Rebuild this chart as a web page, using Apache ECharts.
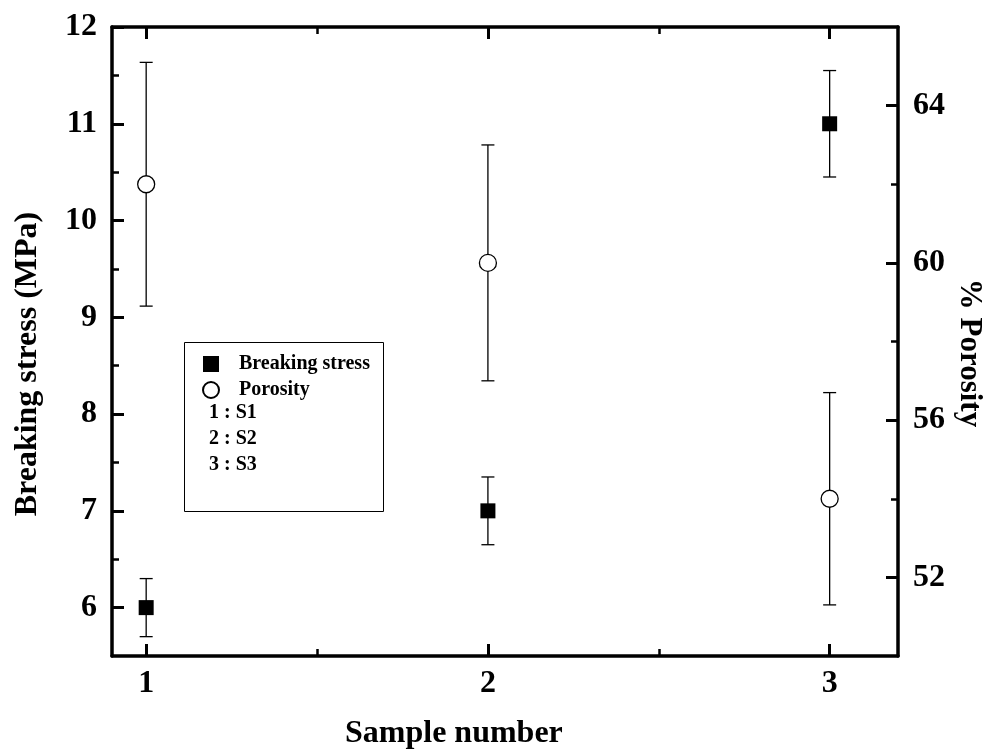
<!DOCTYPE html>
<html>
<head>
<meta charset="utf-8">
<script src="https://cdn.jsdelivr.net/npm/echarts@6/dist/echarts.min.js"></script>
<style>
  html, body { margin: 0; padding: 0; background: #fff; }
  #chart { width: 988px; height: 752px; }
</style>
</head>
<body>
<div id="chart"></div>
<script>
// Sample data: breaking stress (MPa) and porosity (%) with error bars
const samples = [1, 2, 3];
const stressValues = [6.0, 7.0, 11.0];
const stressErrors = [0.30, 0.35, 0.55];
const porosityValues = [62.0, 60.0, 54.0];
const porosityErrors = [3.1, 3.0, 2.7];

// Tick positions
const sampleTicks = [1, 2, 3];
const sampleMinorTicks = [1.5, 2.5];
const stressTicks = [6, 7, 8, 9, 10, 11, 12];
const stressMinorTicks = [6.5, 7.5, 8.5, 9.5, 10.5, 11.5];
const porosityTicks = [52, 56, 60, 64];
const porosityMinorTicks = [54, 58, 62];

// Key text shown inside the legend box
const sampleKey = ['1 : S1', '2 : S2', '3 : S3'];

const FONT = '"Liberation Serif", "Times New Roman", serif';
const chart = echarts.init(document.getElementById('chart'), null, { renderer: 'canvas' });

function axisBase(extra) {
  return Object.assign({
    type: 'value',
    splitLine: { show: false },
    axisLine: { show: false },
    axisLabel: { show: false },
    axisTick: { show: false }
  }, extra);
}
function majorTick(values) {
  return { show: true, inside: true, length: 12, customValues: values,
           lineStyle: { color: '#000', width: 3 } };
}
function minorTick(values) {
  return { show: true, inside: true, length: 7, customValues: values,
           lineStyle: { color: '#000', width: 2.5 } };
}
const tickLabel = (values, margin) => ({
  show: true, customValues: values, margin: margin,
  color: '#000', fontFamily: FONT, fontWeight: 'bold', fontSize: 32
});
const frameLine = { show: true, onZero: false, lineStyle: { color: '#000', width: 3.5 } };

const xRange = { min: 0.9, max: 3.2 };
const stressRange = { min: 5.5, max: 12 };
const porosityRange = { min: 50, max: 66 };

function errorBarSeries(name, yAxisIndex, values, errors) {
  return {
    name: name + ' error',
    type: 'custom',
    xAxisIndex: 0,
    yAxisIndex: yAxisIndex,
    z: 1,
    silent: true,
    data: samples.map((s, i) => [s, values[i], errors[i]]),
    renderItem: function (params, api) {
      const x = api.value(0), y = api.value(1), e = api.value(2);
      const top = api.coord([x, y + e]);
      const bot = api.coord([x, y - e]);
      const cap = 6.5;
      const style = { stroke: '#000', lineWidth: 1.3 };
      return {
        type: 'group',
        children: [
          { type: 'line', shape: { x1: top[0], y1: top[1], x2: bot[0], y2: bot[1] }, style: style },
          { type: 'line', shape: { x1: top[0] - cap, y1: top[1], x2: top[0] + cap, y2: top[1] }, style: style },
          { type: 'line', shape: { x1: bot[0] - cap, y1: bot[1], x2: bot[0] + cap, y2: bot[1] }, style: style }
        ]
      };
    }
  };
}

const keyTexts = sampleKey.map((t, i) => ({
  type: 'text',
  left: 209,
  top: 403 + i * 25.7,
  z: 100,
  style: { text: t, fill: '#000', font: 'bold 20px ' + FONT }
}));

const option = {
  animation: false,
  backgroundColor: '#fff',
  grid: { left: 112, right: 90, top: 27, bottom: 96, containLabel: false },
  xAxis: [
    axisBase(Object.assign({ position: 'bottom', axisLine: frameLine,
      axisTick: majorTick(sampleTicks), axisLabel: tickLabel(sampleTicks, 12) }, xRange)),
    axisBase(Object.assign({ position: 'bottom', axisTick: minorTick(sampleMinorTicks) }, xRange)),
    axisBase(Object.assign({ position: 'top', axisLine: frameLine,
      axisTick: majorTick(sampleTicks) }, xRange)),
    axisBase(Object.assign({ position: 'top', axisTick: minorTick(sampleMinorTicks) }, xRange))
  ],
  yAxis: [
    axisBase(Object.assign({ position: 'left', axisLine: frameLine,
      axisTick: majorTick(stressTicks), axisLabel: tickLabel(stressTicks, 15) }, stressRange)),
    axisBase(Object.assign({ position: 'left', axisTick: minorTick(stressMinorTicks) }, stressRange)),
    axisBase(Object.assign({ position: 'right', axisLine: frameLine,
      axisTick: majorTick(porosityTicks), axisLabel: tickLabel(porosityTicks, 15) }, porosityRange)),
    axisBase(Object.assign({ position: 'right', axisTick: minorTick(porosityMinorTicks) }, porosityRange))
  ],
  legend: {
    show: true,
    orient: 'vertical',
    left: 197,
    top: 349,
    z: 20,
    itemWidth: 16,
    itemHeight: 16,
    itemGap: 6,
    selectedMode: false,
    data: ['Breaking stress', 'Porosity'],
    textStyle: { color: '#000', fontFamily: FONT, fontWeight: 'bold', fontSize: 20,
                 padding: [0, 0, 0, 15], lineHeight: 19 }
  },
  graphic: [
    { type: 'rect', left: 184, top: 342, z: 0,
      shape: { width: 199, height: 169 },
      style: { fill: '#fff', stroke: '#000', lineWidth: 1 } },
    ...keyTexts,
    { type: 'text', left: 345, top: 718, z: 100,
      style: { text: 'Sample number', fill: '#000', font: 'bold 32px ' + FONT } },
    { type: 'text', x: 28, y: 364, rotation: Math.PI / 2, z: 100,
      style: { text: 'Breaking stress (MPa)', fill: '#000', font: 'bold 32px ' + FONT,
               align: 'center', verticalAlign: 'middle' } },
    { type: 'text', x: 969, y: 353, rotation: -Math.PI / 2, z: 100,
      style: { text: '% Porosity', fill: '#000', font: 'bold 31px ' + FONT,
               align: 'center', verticalAlign: 'middle' } }
  ],
  series: [
    errorBarSeries('Breaking stress', 0, stressValues, stressErrors),
    errorBarSeries('Porosity', 2, porosityValues, porosityErrors),
    {
      name: 'Breaking stress',
      type: 'scatter',
      xAxisIndex: 0,
      yAxisIndex: 0,
      symbol: 'rect',
      symbolSize: 15,
      z: 5,
      itemStyle: { color: '#000', opacity: 1 },
      data: samples.map((s, i) => [s, stressValues[i]])
    },
    {
      name: 'Porosity',
      type: 'scatter',
      xAxisIndex: 0,
      yAxisIndex: 2,
      symbol: 'circle',
      symbolSize: 17,
      z: 5,
      itemStyle: { color: '#fff', borderColor: '#000', borderWidth: 1.3, opacity: 1 },
      data: samples.map((s, i) => [s, porosityValues[i]])
    }
  ]
};

chart.setOption(option);
</script>
</body>
</html>
